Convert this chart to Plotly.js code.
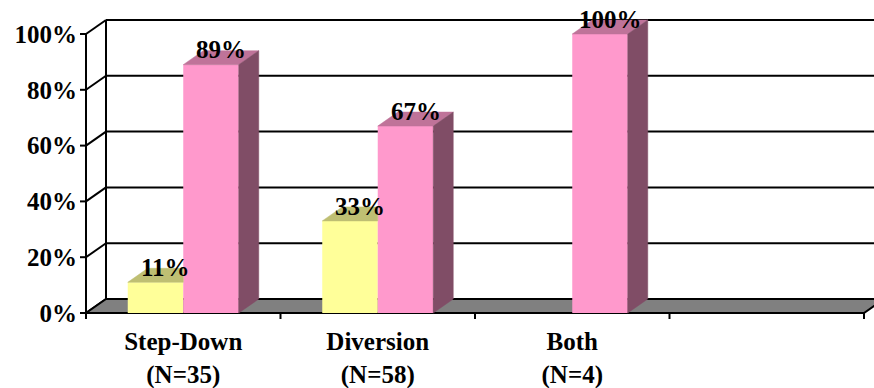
<!DOCTYPE html>
<html><head><meta charset="utf-8">
<script src="https://cdn.plot.ly/plotly-3.0.1.min.js"></script>
<style>html,body{margin:0;padding:0;background:#fff;}#chart{width:874px;height:388px;}</style>
</head><body><div id="chart"></div>
<script>
// ---- data ----
const categories = ['Step-Down<br>(N=35)', 'Diversion<br>(N=58)', 'Both<br>(N=4)', ''];
const seriesYellow = [11, 33, null, null];
const seriesPink = [89, 67, 100, null];
const yTickVals = [0, 20, 40, 60, 80, 100];
const yTickText = ['0%', '20%', '40%', '60%', '80%', '100%'];

// ---- geometry / style ----
const W = 874, H = 388;
const frontLeftPx = 86, catPx = 194.5, zeroPx = 313, pxPerUnit = 2.79;
const plotL = 78, plotT = 18, plotB = 322;
const DXpx = 20, DYpx = 14;
const DX = DXpx / catPx, DY = DYpx / pxPerUnit;
const xmin = -0.5 - (frontLeftPx - plotL) / catPx;
const xmax = -0.5 + (W - frontLeftPx) / catPx;
const ymin = -(plotB - zeroPx) / pxPerUnit;
const ymax = (zeroPx - plotT) / pxPerUnit;
const barW = 55.5 / catPx;
const FONT = 'Liberation Serif, Times New Roman, serif';
const FS = 25;
const colors = {
  yFront: '#FFFF99', yTop: '#BFBF73',
  pFront: '#FF99CC', pTop: '#BF7399', pSide: '#804D66',
  floor: '#808080'
};
const n = categories.length;
const xIdx = categories.map((c, i) => i);

// front faces as bars
const traces = [
  {type: 'bar', x: xIdx, y: seriesYellow, width: barW, offset: -barW,
   marker: {color: colors.yFront, line: {width: 0}}, hoverinfo: 'skip'},
  {type: 'bar', x: xIdx, y: seriesPink, width: barW, offset: 0,
   marker: {color: colors.pFront, line: {width: 0}}, hoverinfo: 'skip'}
];

// 3D faces
const yTopX = [], yTopY = [], pTopX = [], pTopY = [], pSideX = [], pSideY = [];
xIdx.forEach(i => {
  const a = seriesYellow[i], b = seriesPink[i];
  if (a != null) {
    const x0 = i - barW, x1 = i;
    if (b != null && b >= a + DY) {
      yTopX.push(x0, x1, x1, x0 + DX, x0, null);
      yTopY.push(a, a, a + DY, a + DY, a, null);
    } else {
      yTopX.push(x0, x1, x1 + DX, x0 + DX, x0, null);
      yTopY.push(a, a, a + DY, a + DY, a, null);
    }
  }
  if (b != null) {
    const x0 = i, x1 = i + barW;
    pTopX.push(x0, x1, x1 + DX, x0 + DX, x0, null);
    pTopY.push(b, b, b + DY, b + DY, b, null);
    pSideX.push(x1, x1 + DX, x1 + DX, x1, x1, null);
    pSideY.push(0, DY, b + DY, b, 0, null);
  }
});
function face(x, y, c) {
  return {type: 'scatter', mode: 'lines', x: x, y: y, fill: 'toself', fillcolor: c,
    line: {color: c, width: 0.5}, connectgaps: false, hoverinfo: 'skip'};
}
traces.push(face(yTopX, yTopY, colors.yTop));
traces.push(face(pTopX, pTopY, colors.pTop));
traces.push(face(pSideX, pSideY, colors.pSide));

// walls, floor, axes as shapes
const L = {color: '#000', width: 2};
const shapes = [];
const xl = -0.5, xr = n - 0.5;
yTickVals.forEach(t => {
  shapes.push({type: 'line', layer: 'below', x0: xl + DX, x1: xmax + 1, y0: t + DY, y1: t + DY, line: L});
  shapes.push({type: 'line', layer: 'below', x0: xl, x1: xl + DX, y0: t, y1: t + DY, line: L});
  shapes.push({type: 'line', layer: 'below', x0: xl - 6 / catPx, x1: xl, y0: t, y1: t, line: L});
});
shapes.push({type: 'line', layer: 'below', x0: xl + DX, x1: xl + DX, y0: DY, y1: yTickVals[yTickVals.length - 1] + DY, line: L});
shapes.push({type: 'path', layer: 'below',
  path: `M ${xl},0 L ${xr},0 L ${xr + DX},${DY} L ${xl + DX},${DY} Z`,
  fillcolor: colors.floor, line: L});
shapes.push({type: 'line', layer: 'below', x0: xl, x1: xl, y0: -6 / pxPerUnit, y1: yTickVals[yTickVals.length - 1], line: L});
for (let k = 0; k <= n; k++) {
  shapes.push({type: 'line', layer: 'below', x0: k - 0.5, x1: k - 0.5, y0: 0, y1: -6 / pxPerUnit, line: L});
}

// data labels
const annotations = [];
[[seriesYellow, -barW / 2], [seriesPink, barW / 2]].forEach(([s, off]) => {
  s.forEach((v, i) => {
    if (v == null) return;
    annotations.push({x: i + off + DX / 2, y: v + DY + 0.3, xref: 'x', yref: 'y',
      text: v + '%', showarrow: false, xanchor: 'center', yanchor: 'middle',
      font: {family: FONT, size: FS, color: '#000', weight: 'bold'}});
  });
});

const layout = {
  width: W, height: H,
  margin: {l: plotL, r: 0, t: plotT, b: H - plotB, pad: 0},
  paper_bgcolor: '#fff', plot_bgcolor: 'rgba(0,0,0,0)',
  showlegend: false, barmode: 'overlay',
  font: {family: FONT, size: FS, color: '#000', weight: 'bold'},
  xaxis: {range: [xmin, xmax], tickvals: xIdx.slice(0, 3), ticktext: categories.slice(0, 3),
    showgrid: false, zeroline: false, showline: false, ticks: '', fixedrange: true,
    ticklabelstandoff: 2,
    tickfont: {family: FONT, size: FS, weight: 'bold', color: '#000'}},
  yaxis: {range: [ymin, ymax], tickvals: yTickVals, ticktext: yTickText,
    showgrid: false, zeroline: false, showline: false, ticks: '', fixedrange: true,
    tickfont: {family: FONT, size: FS, weight: 'bold', color: '#000'}},
  shapes: shapes, annotations: annotations
};
Plotly.newPlot('chart', traces, layout, {displayModeBar: false, staticPlot: true});
</script></body></html>
